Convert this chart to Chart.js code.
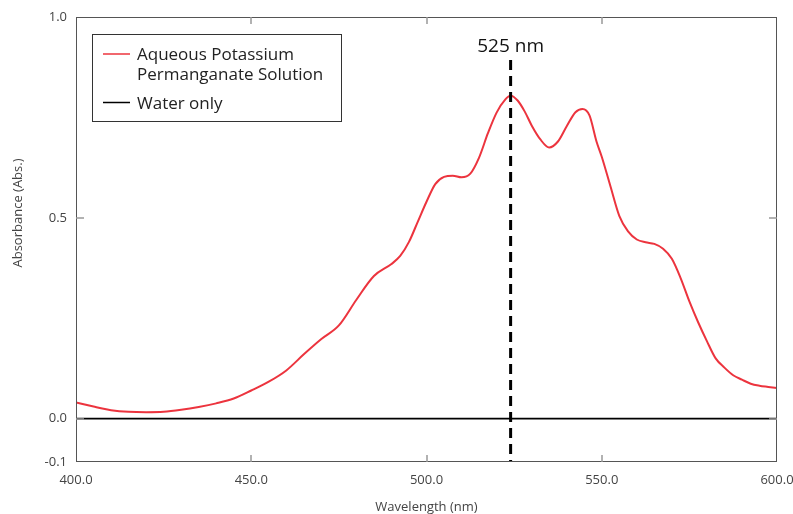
<!DOCTYPE html>
<html><head><meta charset="utf-8">
<script src="https://cdn.jsdelivr.net/npm/chart.js@4.4.0/dist/chart.umd.min.js"></script>
<style>html,body{margin:0;padding:0;background:#fff;}canvas{display:block;}</style>
</head><body>
<canvas id="c" width="793" height="514"></canvas>
<script>
// ---- data ----
const wavelengths = [400,402.5,405,407.5,410,415,420,425,430,435,440,445,450,455,460,465,470,475,480,485,490,492.5,495,497.5,500,502.5,505,507.5,510,512.5,515,517.5,520,522.5,524,526,528,530,532.5,535,537.5,540,542.5,544.5,546.5,548.5,550,552.5,555,557.5,560,562.5,565,567.5,570,572.5,575,577.5,580,582.5,585,587.5,590,592.5,595,597.5,600];
const kmno4Absorbance = [0.040,0.035,0.030,0.025,0.021,0.017,0.016,0.017,0.022,0.029,0.038,0.050,0.070,0.092,0.120,0.160,0.198,0.232,0.296,0.355,0.385,0.405,0.440,0.490,0.540,0.584,0.602,0.605,0.601,0.610,0.650,0.710,0.762,0.795,0.804,0.792,0.765,0.730,0.695,0.675,0.690,0.728,0.763,0.771,0.755,0.690,0.652,0.578,0.505,0.466,0.446,0.439,0.435,0.423,0.398,0.350,0.292,0.240,0.193,0.150,0.127,0.108,0.097,0.087,0.082,0.079,0.076];
const waterWavelengths = [400, 450, 500, 550, 600];
const waterAbsorbance = [0, 0, 0, 0, 0];
const xTickStep = 50;
const yTickValues = [-0.108, 0, 0.5, 1.0];
const yTickLabels = ['-0.1', '0.0', '0.5', '1.0'];
const markerWavelength = 524;
const markerTop = 0.893;
const markerLabel = '525 nm';
const seriesNames = [['Aqueous Potassium', 'Permanganate Solution'], ['Water only']];
const xTitle = 'Wavelength (nm)';
const yTitle = 'Absorbance (Abs.)';

const RED = 'rgb(236,52,62)';
const FONT = '"Open Sans", "Noto Sans", sans-serif';

const toXY = (xs, ys) => xs.map((x, i) => ({x, y: ys[i]}));

const decor = {
  id: 'decor',
  afterDraw(chart) {
    const {ctx, chartArea: a, scales: {x, y}} = chart;
    ctx.save();
    // frame
    ctx.strokeStyle = '#555'; ctx.lineWidth = 1;
    ctx.strokeRect(Math.round(a.left) + 0.5, Math.round(a.top) + 0.5,
      Math.round(a.right - a.left) - 1, Math.round(a.bottom - a.top) - 1);
    // inward tick marks
    ctx.strokeStyle = '#999'; ctx.lineWidth = 1.5;
    ctx.beginPath();
    x.ticks.forEach(t => {
      if (t.value > x.min && t.value < x.max) {
        const px = Math.round(x.getPixelForValue(t.value));
        ctx.moveTo(px, a.top); ctx.lineTo(px, a.top + 7);
        ctx.moveTo(px, a.bottom); ctx.lineTo(px, a.bottom - 7);
      }
    });
    y.ticks.forEach(t => {
      if (t.value > y.min && t.value < y.max) {
        const py = Math.round(y.getPixelForValue(t.value));
        ctx.moveTo(a.left, py); ctx.lineTo(a.left + 8, py);
        ctx.moveTo(a.right, py); ctx.lineTo(a.right - 8, py);
      }
    });
    ctx.stroke();
    // y title
    ctx.save();
    ctx.translate(18, 213);
    ctx.rotate(-Math.PI / 2);
    ctx.fillStyle = '#444';
    ctx.font = '13px ' + FONT;
    ctx.textAlign = 'center'; ctx.textBaseline = 'middle';
    ctx.fillText(yTitle, 0, 0);
    ctx.restore();
    // marker label
    ctx.fillStyle = '#111';
    ctx.font = '19px ' + FONT;
    ctx.textAlign = 'center'; ctx.textBaseline = 'middle';
    ctx.fillText(markerLabel, x.getPixelForValue(markerWavelength), y.getPixelForValue(markerTop) - 13);
    // legend
    const lx = 92.5, ly = 34.5, lw = 249, lh = 87;
    ctx.fillStyle = '#fff';
    ctx.fillRect(lx, ly, lw, lh);
    ctx.strokeStyle = '#333'; ctx.lineWidth = 1;
    ctx.strokeRect(lx, ly, lw, lh);
    const ds = chart.data.datasets;
    const rows = [{i: 0, lineY: 54, textY: [55, 75]}, {i: 1, lineY: 102.5, textY: [104]}];
    ctx.font = '17px ' + FONT;
    ctx.textAlign = 'left'; ctx.textBaseline = 'middle';
    rows.forEach(r => {
      ctx.strokeStyle = ds[r.i].borderColor; ctx.lineWidth = 1.5;
      ctx.beginPath(); ctx.moveTo(103, r.lineY); ctx.lineTo(130, r.lineY); ctx.stroke();
      ctx.fillStyle = '#222';
      seriesNames[r.i].forEach((t, k) => ctx.fillText(t, 137, r.textY[k]));
    });
    ctx.restore();
  }
};

new Chart(document.getElementById('c'), {
  type: 'line',
  data: {
    datasets: [
      {label: seriesNames[0].join(' '), data: toXY(wavelengths, kmno4Absorbance), borderColor: RED, borderWidth: 2,
       pointRadius: 0, cubicInterpolationMode: 'monotone', order: 3},
      {label: seriesNames[1].join(' '), data: toXY(waterWavelengths, waterAbsorbance), borderColor: '#000', borderWidth: 1.6,
       pointRadius: 0, tension: 0, order: 2},
      {label: markerLabel, data: [{x: markerWavelength, y: markerTop}, {x: markerWavelength, y: yTickValues[0]}],
       borderColor: '#000', borderWidth: 3, borderDash: [10, 6], pointRadius: 0, order: 1}
    ]
  },
  options: {
    responsive: false, animation: false, devicePixelRatio: 1,
    layout: {padding: {left: 0, right: 16, top: 17, bottom: 0}},
    plugins: {legend: {display: false}, tooltip: {enabled: false}},
    scales: {
      x: {
        type: 'linear', min: 400, max: 600,
        grid: {display: false, drawTicks: false},
        border: {display: false},
        ticks: {stepSize: xTickStep, padding: 10, color: '#444', font: {family: FONT, size: 13},
                callback: v => Number(v).toFixed(1), maxRotation: 0},
        title: {display: true, text: xTitle, color: '#444', font: {family: FONT, size: 13, lineHeight: 1}, padding: {top: 0, bottom: 0}},
        afterFit: s => { s.height = 52; s.paddingLeft = 0; s.paddingRight = 0; }
      },
      y: {
        type: 'linear', min: yTickValues[0], max: yTickValues[yTickValues.length - 1],
        grid: {display: false, drawTicks: false},
        border: {display: false},
        afterBuildTicks: s => { s.ticks = yTickValues.map(v => ({value: v})); },
        ticks: {padding: 9, color: '#444', font: {family: FONT, size: 13}, autoSkip: false,
                callback: (v, i) => yTickLabels[i]},
        afterFit: s => { s.width = 76; s.paddingTop = 0; s.paddingBottom = 0; }
      }
    }
  },
  plugins: [decor]
});
</script>
</body></html>
